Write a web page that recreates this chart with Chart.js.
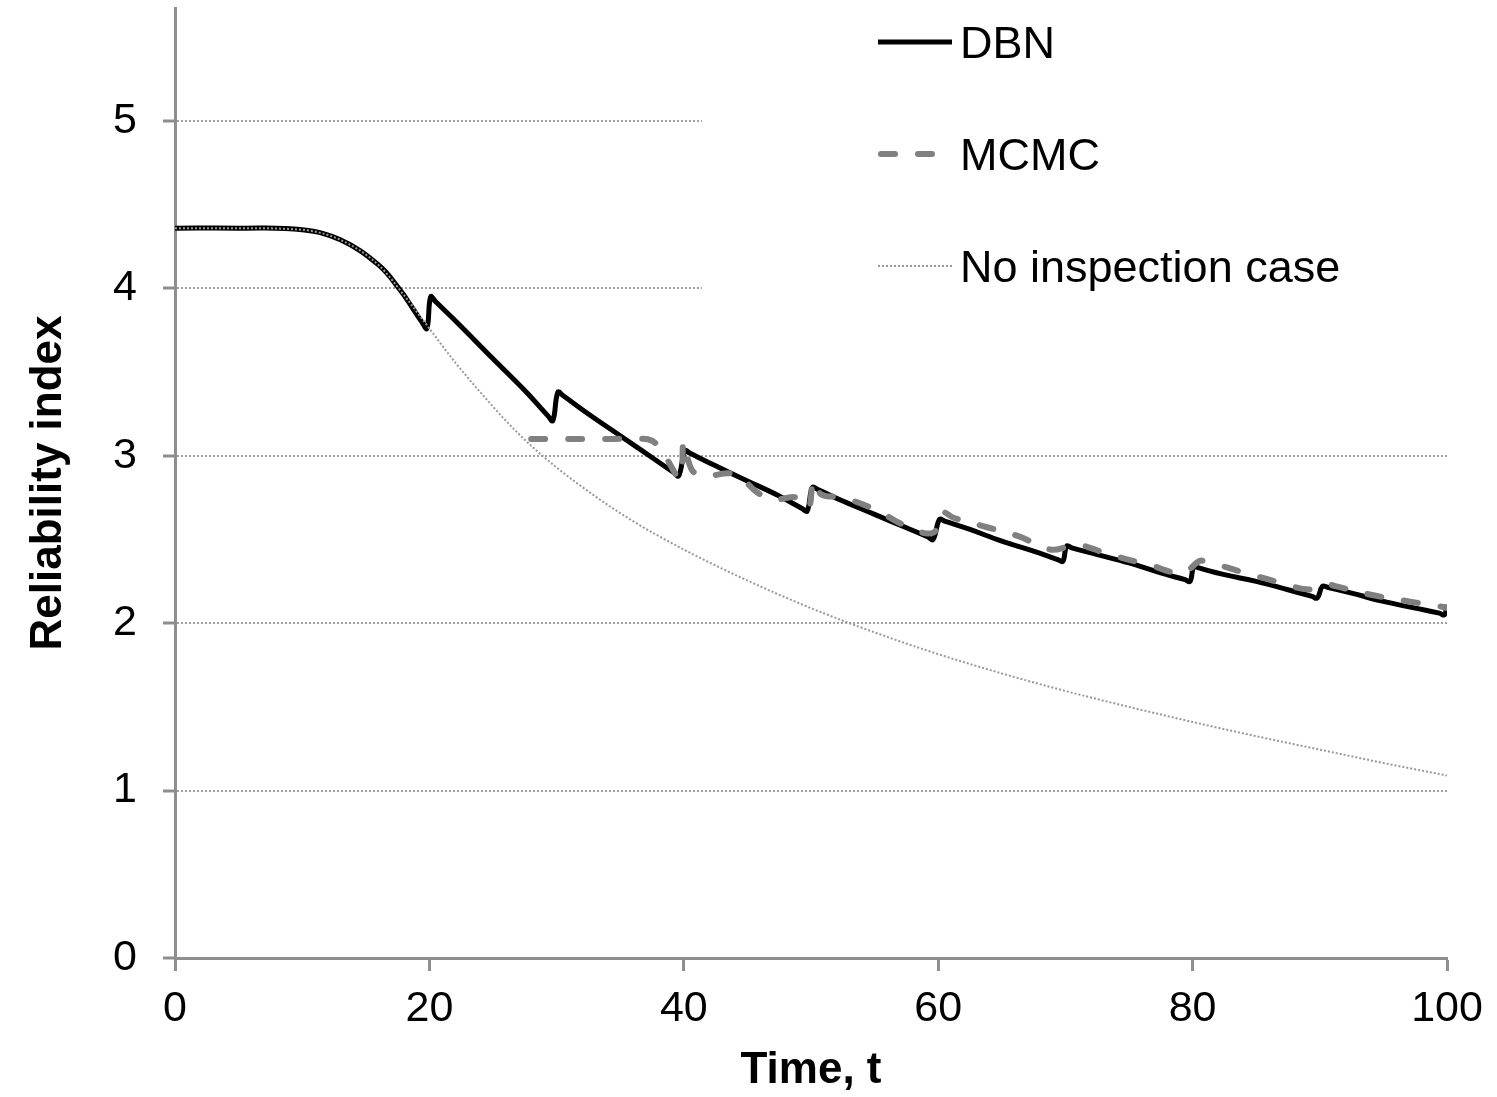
<!DOCTYPE html>
<html>
<head>
<meta charset="utf-8">
<title>Reliability index</title>
<script src="https://cdn.jsdelivr.net/npm/chart.js@4.4.1/dist/chart.umd.min.js"></script>
<style>
  body { margin: 0; background: #fff; }
  #wrap { width: 1497px; height: 1097px; }
</style>
</head>
<body>
<div id="wrap"><canvas id="myChart" width="1497" height="1097"></canvas></div>
<script>
// Данные
const dbnT = [0, 5, 10, 13, 16, 17.7, 18.7, 19.4, 19.8, 20.1, 20.5, 22, 25, 27.5, 29.3, 29.7, 30.1, 30.5, 32.5, 35, 37.5, 39.2, 39.6, 40.1, 40.5, 42.5, 45, 47.5, 49.3, 49.7, 50.1, 50.5, 52.5, 55, 57.5, 59.2, 59.6, 60.1, 60.5, 62.5, 65, 67.5, 69.4, 69.8, 70.1, 70.5, 72.5, 75, 77.5, 79.4, 79.8, 80.1, 80.5, 82.5, 85, 87.5, 89.4, 89.8, 90.2, 90.6, 92.5, 95, 97.5, 99.4, 99.8, 100];
const dbnY = [4.36, 4.36, 4.35, 4.29, 4.14, 3.99, 3.88, 3.80, 3.76, 3.95, 3.92, 3.81, 3.58, 3.39, 3.24, 3.21, 3.38, 3.36, 3.25, 3.12, 2.99, 2.90, 2.88, 3.03, 3.015, 2.94, 2.85, 2.76, 2.685, 2.67, 2.81, 2.80, 2.73, 2.65, 2.57, 2.515, 2.50, 2.62, 2.61, 2.56, 2.49, 2.43, 2.38, 2.37, 2.46, 2.45, 2.41, 2.36, 2.30, 2.26, 2.25, 2.34, 2.33, 2.29, 2.25, 2.20, 2.16, 2.15, 2.22, 2.215, 2.18, 2.13, 2.09, 2.06, 2.05, 2.11];

const mcmcT = [28, 30, 33, 36, 37.5, 38.5, 39.7, 40.0, 40.6, 41.5, 44, 45.8, 47, 49, 49.8, 50.2, 50.8, 52.5, 55, 57.5, 59.6, 60.3, 61.2, 63.5, 66.3, 68.8, 70.3, 71, 73.5, 76.5, 79.2, 80.5, 81, 83.7, 86.5, 89.3, 90.6, 91.3, 94, 97, 99.5, 100];
const mcmcY = [3.10, 3.10, 3.10, 3.10, 3.09, 3.00, 2.87, 3.08, 2.92, 2.88, 2.89, 2.78, 2.74, 2.75, 2.69, 2.85, 2.77, 2.75, 2.68, 2.58, 2.54, 2.66, 2.63, 2.58, 2.52, 2.44, 2.46, 2.47, 2.41, 2.35, 2.30, 2.37, 2.37, 2.31, 2.25, 2.20, 2.23, 2.22, 2.17, 2.13, 2.10, 2.09];

const noInspT = [0, 5, 10, 13, 16, 18, 20, 22, 24, 26, 28, 30, 33, 36, 40, 45, 50, 55, 60, 65, 70, 75, 80, 85, 90, 95, 100];
const noInspY = [4.36, 4.36, 4.35, 4.29, 4.14, 3.96, 3.76, 3.56, 3.38, 3.21, 3.06, 2.93, 2.76, 2.61, 2.44, 2.255, 2.09, 1.945, 1.815, 1.70, 1.595, 1.50, 1.41, 1.325, 1.245, 1.165, 1.09];

const seriesNames = ['DBN', 'MCMC', 'No inspection case'];
const xTicks = [0, 20, 40, 60, 80, 100];
const yTicks = [0, 1, 2, 3, 4, 5];

function toPoints(ts, ys) {
  let points = [];
  for (let i = 0; i < ts.length; i++) {
    points.push({ x: ts[i], y: ys[i] });
  }
  return points;
}

Chart.defaults.font.family = '"Liberation Sans", Arial, sans-serif';
Chart.defaults.color = '#000';

// Легенда внутри графика, на белом фоне
const legendBox = {
  id: 'legendBox',
  beforeDatasetsDraw(chart) {
    const ctx = chart.ctx;
    ctx.save();
    ctx.fillStyle = '#fff';
    ctx.fillRect(702, 0, 760, 305);
    ctx.restore();
  },
  afterDraw(chart) {
    const ctx = chart.ctx;
    const rows = [42, 154, 266];
    ctx.save();
    chart.data.datasets.forEach((ds, i) => {
      const y = rows[i];
      ctx.beginPath();
      ctx.strokeStyle = ds.borderColor;
      ctx.lineWidth = ds.borderWidth;
      ctx.setLineDash(ds.borderDash || []);
      ctx.lineCap = ds.borderCapStyle || 'butt';
      if (i === 1) {
        ctx.moveTo(881, y);
        ctx.lineTo(934, y);
      } else {
        ctx.moveTo(878, y);
        ctx.lineTo(952, y);
      }
      ctx.stroke();
      ctx.setLineDash([]);
      ctx.fillStyle = '#000';
      ctx.font = '45px "Liberation Sans", Arial, sans-serif';
      ctx.textBaseline = 'middle';
      ctx.textAlign = 'left';
      ctx.fillText(ds.label, 960, y + 4);
    });
    ctx.restore();
  }
};

const ctx = document.getElementById('myChart').getContext('2d');

new Chart(ctx, {
  type: 'line',
  data: {
    datasets: [{
      label: seriesNames[0],
      data: toPoints(dbnT, dbnY),
      borderColor: '#000',
      borderWidth: 5,
      tension: 0.4,
      pointRadius: 0,
      order: 2
    }, {
      label: seriesNames[1],
      data: toPoints(mcmcT, mcmcY),
      borderColor: '#808080',
      borderWidth: 6,
      borderDash: [14, 23],
      borderCapStyle: 'round',
      tension: 0.4,
      pointRadius: 0,
      order: 1
    }, {
      label: seriesNames[2],
      data: toPoints(noInspT, noInspY),
      borderColor: '#999999',
      borderWidth: 2,
      borderDash: [2, 2],
      cubicInterpolationMode: 'monotone',
      pointRadius: 0,
      order: 0
    }]
  },
  options: {
    responsive: false,
    animation: false,
    devicePixelRatio: 1,
    layout: { padding: { top: 8, right: 50, left: 0, bottom: 0 } },
    plugins: {
      legend: { display: false },
      tooltip: { enabled: false }
    },
    scales: {
      x: {
        type: 'linear',
        min: 0,
        max: 100,
        afterBuildTicks: (scale) => { scale.ticks = xTicks.map(v => ({ value: v })); },
        afterFit: (scale) => { scale.height = 139; scale.paddingLeft = 0; scale.paddingRight = 0; },
        grid: { drawOnChartArea: false, drawTicks: true, tickLength: 13, tickColor: '#8e8e8e', tickWidth: 3 },
        border: { color: '#8e8e8e', width: 3 },
        ticks: { font: { size: 43 }, padding: 12, maxRotation: 0 },
        title: { display: true, text: 'Time, t', font: { size: 44, weight: 'bold' }, padding: { top: 0, bottom: 0 } }
      },
      y: {
        type: 'linear',
        min: 0,
        max: 5.675,
        afterBuildTicks: (scale) => { scale.ticks = yTicks.map(v => ({ value: v })); },
        afterFit: (scale) => { scale.width = 175; scale.paddingTop = 0; scale.paddingBottom = 0; },
        grid: {
          color: '#a0a0a0',
          lineWidth: 2,
          drawTicks: true,
          tickLength: 12,
          tickColor: '#8e8e8e',
          tickWidth: 3,
          tickBorderDash: []
        },
        border: { color: '#8e8e8e', width: 3, dash: [2, 2] },
        ticks: { font: { size: 43 }, padding: 26 },
        title: { display: true, text: 'Reliability index', font: { size: 44, weight: 'bold' }, padding: { top: 22, bottom: 0 } }
      }
    }
  },
  plugins: [legendBox]
});
</script>
</body>
</html>
